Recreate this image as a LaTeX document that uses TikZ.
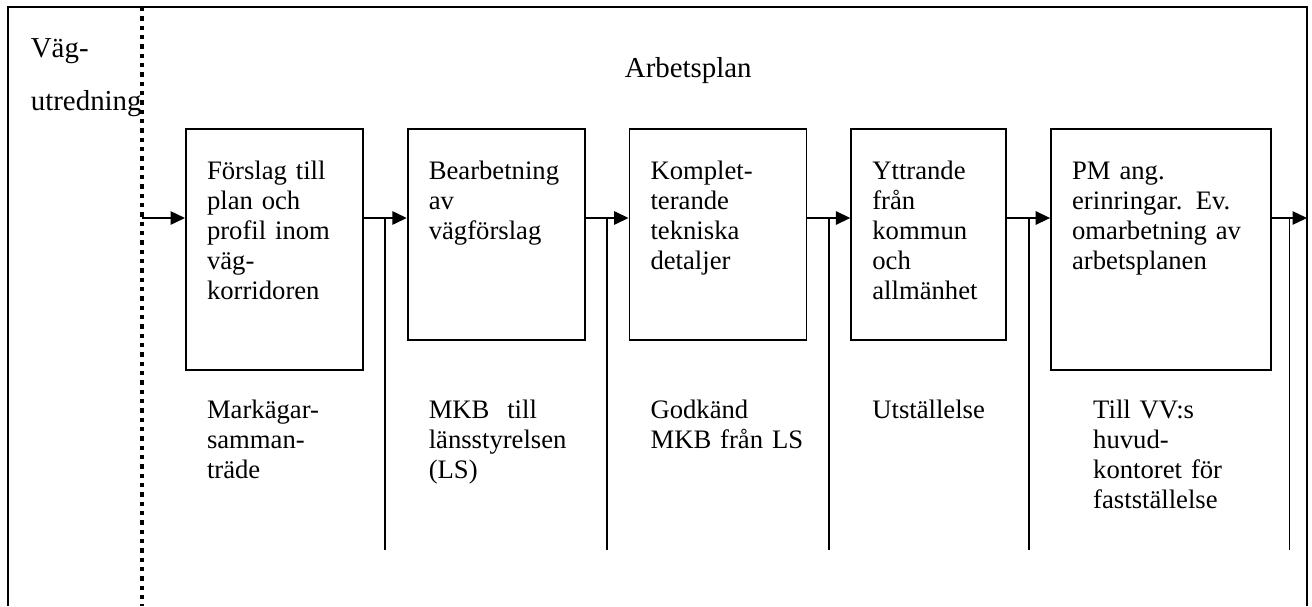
\documentclass[tikz,border=0pt]{standalone}
\usepackage{fontspec}
\setmainfont{Liberation Serif}
\usetikzlibrary{arrows.meta,positioning,calc}

\begin{document}
\begin{tikzpicture}[
  x=0.45pt, y=-0.45pt, line width=0.8pt,
  >={Triangle[length=6.5pt, width=6pt]},
  font=\fontsize{12}{13.5}\selectfont, node distance=19.35pt,
  stage/.style={draw, anchor=north west, align=left, inner xsep=9.5pt, inner ysep=14.45pt,
    text width=#1, text height=8.5pt},
  tall/.style={text depth=71pt},
  short/.style={text depth=57.5pt},
  mstone/.style={anchor=base west, align=left, inner sep=0pt, text width=75pt},
  head/.style={anchor=base west, align=left, inner sep=0pt, font=\fontsize{13}{23.85}\selectfont}]

  \useasboundingbox (0,0) rectangle (1312,606);

  % --- frame and the dotted border Vägutredning | Arbetsplan ---
  \draw (8,606) -- (8,7) -- (1307,7) -- (1307,606);
  \coordinate (div) at (142,7);
  \draw[line width=2pt, dash pattern=on 2pt off 2.2pt] (div) -- (142,606);

  \node[head, text width=50pt] (vag) at (30,57) {Väg-\\utredning};
  \node[head] (ap) at (624,77) {Arbetsplan};

  \coordinate (row) at (0,218);
  \coordinate (out) at (1307,218);
  \coordinate (msline) at (0,418);

  % --- the five steps ---
  \node[stage=60.65pt, tall] (b1) at (185,128) {Förslag till\\plan och\\profil inom\\väg-\\korridoren};
  \node[stage=60.65pt, short, right=of b1.north east, anchor=north west] (b2) {Bearbetning\\av\\vägförslag};
  \node[stage=60.65pt, short, right=of b2.north east, anchor=north west] (b3) {Komplet-\\terande\\tekniska\\detaljer};
  \node[stage=50.75pt, short, right=of b3.north east, anchor=north west] (b4) {Yttrande\\från\\kommun\\och\\allmänhet};
  \node[stage=80pt, tall, right=of b4.north east, anchor=north west] (b5) {PM ang.\\erinringar. Ev.\\omarbetning av\\arbetsplanen};

  % --- milestones under each step ---
  \node[mstone, xshift=9.5pt] (m1) at (b1.west |- msline) {Markägar-\\samman-\\träde};
  \node[mstone, xshift=9.5pt] (m2) at (b2.west |- msline) {MKB\ \ till\\länsstyrelsen\\(LS)};
  \node[mstone, xshift=9.5pt] (m3) at (b3.west |- msline) {Godkänd\\MKB från LS};
  \node[mstone, xshift=9.5pt] (m4) at (b4.west |- msline) {Utställelse};
  \node[mstone, xshift=19pt] (m5) at (b5.west |- msline) {Till VV:s\\huvud-\\kontoret för\\fastställelse};

  \draw[->] (div |- row) -- (b1.west |- row);
  \foreach \a/\b in {b1/b2,b2/b3,b3/b4,b4/b5}{
    \draw[->] (\a.east |- row) -- (\b.west |- row);
    \draw ($(\a.east |- row)!.5!(\b.west |- row)$) -- ++(0,332);
  }
  \draw[->] (b5.east |- row) -- (out);
  \draw ($(b5.east |- row)!.5!(out)$) -- ++(0,332);
\end{tikzpicture}
\end{document}
